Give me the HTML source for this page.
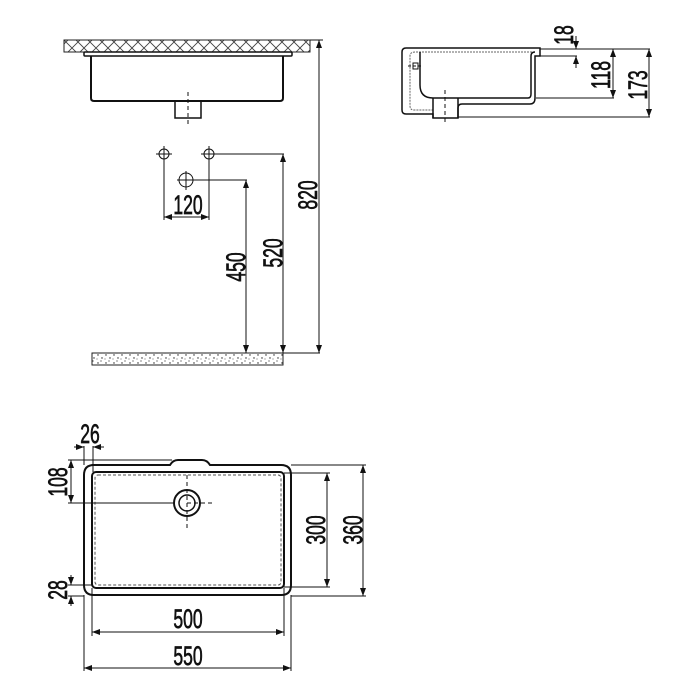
<!DOCTYPE html>
<html><head><meta charset="utf-8"><style>
html,body{margin:0;padding:0;background:#fff;}
svg{display:block;}
text{font-family:"Liberation Sans",sans-serif;font-size:27px;fill:#111;stroke:#111;stroke-width:0.7;}
</style></head><body>
<svg width="700" height="700" viewBox="0 0 700 700" xmlns="http://www.w3.org/2000/svg">
<defs>
<pattern id="hatch" width="24" height="12" patternUnits="userSpaceOnUse">
<path d="M0,12 L12,0 M12,12 L24,0 M0,0 L12,12 M12,0 L24,12" stroke="#444" stroke-width="0.9"/>
</pattern>
<pattern id="sand" width="8" height="8" patternUnits="userSpaceOnUse">
<circle cx="2" cy="3" r="0.7" fill="#222"/><circle cx="6" cy="6" r="0.7" fill="#222"/><circle cx="5" cy="1" r="0.6" fill="#333"/><circle cx="1" cy="7" r="0.5" fill="#333"/>
</pattern>
<marker id="a" markerWidth="8" markerHeight="6" refX="8" refY="3" orient="auto-start-reverse" markerUnits="userSpaceOnUse"><path d="M0,0 L8,3 L0,6 z" fill="#111"/></marker>
</defs>
<g stroke="#111" fill="none" stroke-width="1">
<rect x="64" y="40" width="246" height="12" fill="url(#hatch)" stroke="#222"/>
<rect x="84" y="52" width="208" height="4" rx="1" stroke-width="1.5"/>
<path d="M91,56 V98 Q91,101 94,101 H280 Q283,101 283,98 V56" stroke-width="2"/>
<rect x="175" y="101" width="26" height="17" stroke-width="1.5"/>
<line x1="188" y1="92" x2="188" y2="124" stroke-dasharray="4,3"/>
<line x1="310" y1="40" x2="323" y2="40"/>
<line x1="319" y1="40" x2="319" y2="353" marker-start="url(#a)" marker-end="url(#a)"/>
<rect x="92" y="353" width="191" height="12" fill="url(#sand)" stroke="#222"/>
<line x1="283" y1="353" x2="320" y2="353"/>
<circle cx="164" cy="154" r="5"/><circle cx="209" cy="154" r="5"/>
<line x1="156" y1="154" x2="172" y2="154"/><line x1="164" y1="146" x2="164" y2="162"/>
<line x1="201" y1="154" x2="217" y2="154"/><line x1="209" y1="146" x2="209" y2="162"/>
<circle cx="186" cy="180" r="7"/>
<line x1="177" y1="180" x2="195" y2="180"/><line x1="186" y1="171" x2="186" y2="190"/>
<line x1="164" y1="160" x2="164" y2="220"/><line x1="209" y1="160" x2="209" y2="220"/>
<line x1="164" y1="217" x2="209" y2="217" marker-start="url(#a)" marker-end="url(#a)"/>
<line x1="214" y1="154" x2="284" y2="154"/>
<line x1="283" y1="154" x2="283" y2="353" marker-start="url(#a)" marker-end="url(#a)"/>
<line x1="193" y1="180" x2="247" y2="180"/>
<line x1="246" y1="180" x2="246" y2="353" marker-start="url(#a)" marker-end="url(#a)"/>

<path d="M540,48 H406 Q402,48 402,52 V110 Q402,114 406,114 H433 V118 H458 V108 Q458,104 462,104 H530 Q535,104 535,98 V56 H540 Z" stroke-width="1.5" fill="#fff"/>
<path d="M535,52 H415 Q410,52 410,56 V106 Q410,110 414,110 H433" stroke="#666" stroke-dasharray="2,1"/>
<path d="M420,52 V85 Q420,98 433,98 H528 Q531,98 531,94 V56 Q531,52 535,52" stroke-width="1.5"/>
<rect x="413" y="63" width="5" height="6" stroke-width="1"/>
<line x1="408" y1="66" x2="423" y2="66" stroke-dasharray="3,2"/>
<line x1="433" y1="98" x2="433" y2="118" stroke-width="1.5"/><line x1="458" y1="98" x2="458" y2="118" stroke-width="1.5"/>
<line x1="445" y1="90" x2="445" y2="124" stroke-dasharray="4,3"/>
<line x1="540" y1="49" x2="650" y2="49"/>
<line x1="540" y1="56" x2="577" y2="56"/>
<line x1="536" y1="98" x2="614" y2="98"/>
<line x1="458" y1="117" x2="650" y2="117"/>
<line x1="576" y1="36" x2="576" y2="49" marker-end="url(#a)"/>
<line x1="576" y1="68" x2="576" y2="56" marker-end="url(#a)"/>
<line x1="613" y1="49" x2="613" y2="98" marker-start="url(#a)" marker-end="url(#a)"/>
<line x1="649" y1="49" x2="649" y2="117" marker-start="url(#a)" marker-end="url(#a)"/>

<path d="M92,465 H170 Q173,460 178,460 H202 Q207,460 210,465 H281 Q291,465 291,475 V585 Q291,595 281,595 H94 Q84,595 84,585 V475 Q84,465 94,465 Z" stroke-width="2"/>
<rect x="92" y="472" width="192" height="116" rx="4" stroke-width="2"/>
<rect x="95" y="475" width="186" height="110" rx="3" stroke-dasharray="3,2" stroke="#555"/>
<circle cx="187" cy="503" r="13" stroke-width="2"/>
<circle cx="187" cy="503" r="8" stroke-width="1.5"/>
<line x1="187" y1="475" x2="187" y2="530" stroke-dasharray="4,3"/>
<line x1="187" y1="503" x2="215" y2="503" stroke-dasharray="4,3"/>
<line x1="84" y1="446" x2="84" y2="465"/><line x1="93" y1="446" x2="93" y2="472"/>
<line x1="74" y1="447" x2="84" y2="447" marker-end="url(#a)"/>
<line x1="104" y1="447" x2="93" y2="447" marker-end="url(#a)"/>
<line x1="68" y1="460" x2="172" y2="460"/>
<line x1="68" y1="503" x2="174" y2="503"/>
<line x1="71" y1="460" x2="71" y2="503" marker-start="url(#a)" marker-end="url(#a)"/>
<line x1="68" y1="585" x2="92" y2="585"/>
<line x1="68" y1="596" x2="84" y2="596"/>
<line x1="71" y1="575" x2="71" y2="585" marker-end="url(#a)"/>
<line x1="71" y1="606" x2="71" y2="596" marker-end="url(#a)"/>
<line x1="284" y1="473" x2="330" y2="473"/>
<line x1="284" y1="587" x2="330" y2="587"/>
<line x1="327" y1="473" x2="327" y2="587" marker-start="url(#a)" marker-end="url(#a)"/>
<line x1="291" y1="465" x2="366" y2="465"/>
<line x1="291" y1="596" x2="366" y2="596"/>
<line x1="363" y1="465" x2="363" y2="596" marker-start="url(#a)" marker-end="url(#a)"/>
<line x1="92" y1="588" x2="92" y2="636"/><line x1="284" y1="588" x2="284" y2="636"/>
<line x1="92" y1="632" x2="284" y2="632" marker-start="url(#a)" marker-end="url(#a)"/>
<line x1="84" y1="595" x2="84" y2="671"/><line x1="291" y1="595" x2="291" y2="671"/>
<line x1="84" y1="668" x2="291" y2="668" marker-start="url(#a)" marker-end="url(#a)"/>
</g>
<g>
<text transform="translate(188,214) scale(0.65,1)" text-anchor="middle">120</text>
<text transform="translate(317,195) rotate(-90) scale(0.65,1)" text-anchor="middle">820</text>
<text transform="translate(282,253) rotate(-90) scale(0.65,1)" text-anchor="middle">520</text>
<text transform="translate(245,267) rotate(-90) scale(0.65,1)" text-anchor="middle">450</text>
<text transform="translate(573,35) rotate(-90) scale(0.65,1)" text-anchor="middle">18</text>
<text transform="translate(610,75) rotate(-90) scale(0.65,1)" text-anchor="middle">118</text>
<text transform="translate(647,85) rotate(-90) scale(0.65,1)" text-anchor="middle">173</text>
<text transform="translate(90,443) scale(0.65,1)" text-anchor="middle">26</text>
<text transform="translate(67,482) rotate(-90) scale(0.65,1)" text-anchor="middle">108</text>
<text transform="translate(67,590) rotate(-90) scale(0.65,1)" text-anchor="middle">28</text>
<text transform="translate(325,530) rotate(-90) scale(0.65,1)" text-anchor="middle">300</text>
<text transform="translate(362,530) rotate(-90) scale(0.65,1)" text-anchor="middle">360</text>
<text transform="translate(188,628) scale(0.65,1)" text-anchor="middle">500</text>
<text transform="translate(188,665) scale(0.65,1)" text-anchor="middle">550</text>
</g>
</svg>
</body></html>
